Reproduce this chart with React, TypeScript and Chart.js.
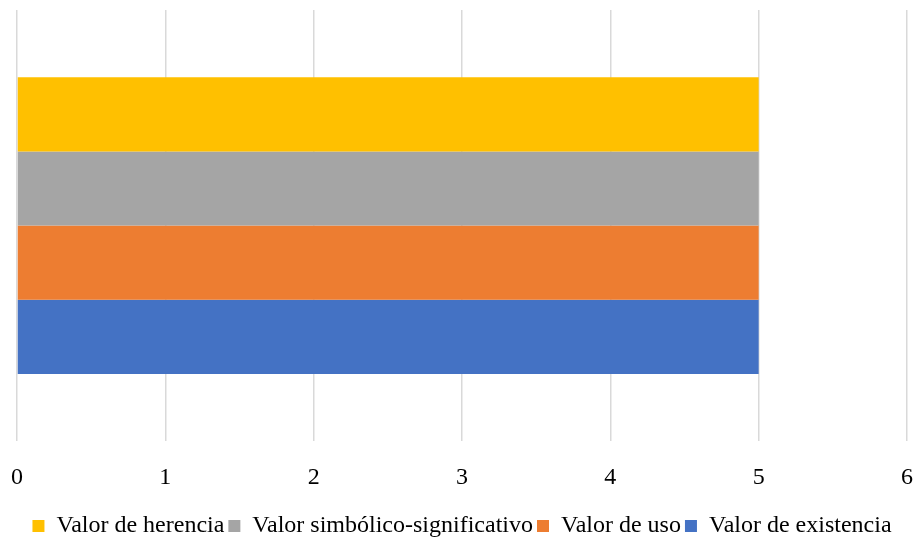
import React, { useEffect, useRef } from "react";
import { Chart, registerables } from "chart.js";

Chart.register(...registerables);

const categories = [""];
const seriesNames = [
  "Valor de herencia",
  "Valor simbólico-significativo",
  "Valor de uso",
  "Valor de existencia",
];
const herencia = [5];
const simbolico = [5];
const uso = [5];
const existencia = [5];
const seriesColors = ["#FFC000", "#A5A5A5", "#ED7D31", "#4472C4"];
const xMin = 0;
const xMax = 6;

export default function App() {
  const ref = useRef<HTMLCanvasElement | null>(null);
  useEffect(() => {
    document.body.style.margin = "0";
    const font = "'Liberation Serif', 'Times New Roman', serif";
    const values = [herencia, simbolico, uso, existencia];
    const chart = new Chart(ref.current!, {
      type: "bar",
      data: {
        labels: categories,
        datasets: seriesNames.map((n, i) => ({
          label: n,
          data: values[i],
          backgroundColor: seriesColors[i],
          borderWidth: 0,
          categoryPercentage: 0.688,
          barPercentage: 1,
        })),
      },
      options: {
        indexAxis: "y",
        animation: false,
        responsive: false,
        layout: { padding: { left: 17, right: 10, top: 10, bottom: -8 } },
        plugins: {
          tooltip: { enabled: false },
          legend: {
            position: "bottom",
            labels: {
              font: { family: font, size: 24 },
              color: "#000",
              boxWidth: 12,
              boxHeight: 12,
              padding: 4,
            },
          },
        },
        scales: {
          x: {
            min: xMin,
            max: xMax,
            ticks: {
              stepSize: 1,
              font: { family: font, size: 24 },
              color: "#000",
              padding: 22,
            },
            grid: { color: "#D9D9D9", lineWidth: 1.5, drawTicks: false },
            border: { display: false },
            afterFit: (s: any) => {
              s.paddingLeft = 0;
              s.paddingRight = 0;
              s.height -= 4;
            },
          },
          y: {
            display: false,
          },
        },
      },
    });
    return () => chart.destroy();
  }, []);
  return (
    <div style={{ width: 917, height: 540 }}>
      <canvas ref={ref} width={917} height={540} />
    </div>
  );
}
